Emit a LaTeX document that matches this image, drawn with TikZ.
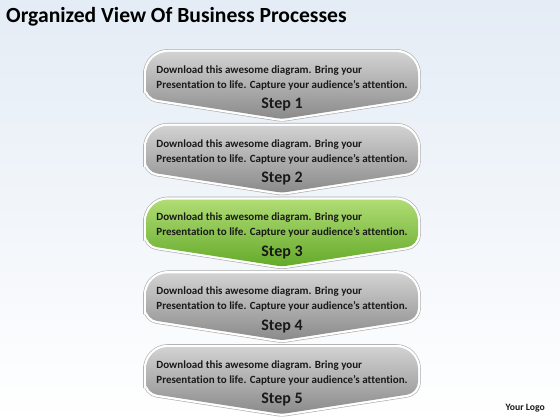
\documentclass[tikz,border=0pt]{standalone}
\usepackage{fontspec}
\setmainfont{Carlito}[Ligatures=NoCommon]
\usetikzlibrary{positioning}

\definecolor{bgblue}{RGB}{228,236,245}
\definecolor{rimgray}{RGB}{170,170,170}
\definecolor{graytop}{RGB}{210,210,210}
\definecolor{graybot}{RGB}{138,138,138}
\definecolor{greentop}{RGB}{176,220,116}
\definecolor{greenbot}{RGB}{100,170,42}
\definecolor{inktext}{RGB}{25,25,25}

% outline of one step banner, #1 = top edge
\newcommand{\bannerpath}[1]{(146,#1+30) [rounded corners=22pt] -- (146,#1) -- (418,#1) [rounded corners=11pt] -- (418,#1+46) [rounded corners=4pt] -- (282,#1+67) [rounded corners=11pt] -- (146,#1+46) -- cycle}

% #1 = top edge, #2 = fill style, #3 = step number
\newcommand{\banner}[3]{%
\path[rim] \bannerpath{#1};
\shade[#2] \bannerpath{#1};
\node[bodytext] (text#3) at (282,#1+26) {Download this awesome diagram. Bring your\\Presentation to life. Capture your audience’s attention.};
\node[steptext] (step#3) at (282,#1+53) {Step #3};
}

\begin{document}
\begin{tikzpicture}[x=1pt,y=-1pt,
rim/.style={draw=rimgray, line width=0.6pt, double=white, double distance=4.5pt},
grayfill/.style={top color=graytop, bottom color=graybot},
greenfill/.style={top color=greentop, bottom color=greenbot},
bodytext/.style={align=left, text=inktext, font=\fontsize{11}{15}\selectfont\bfseries, inner sep=0pt},
steptext/.style={text=inktext, font=\fontsize{16}{18}\selectfont\bfseries, inner sep=0pt}]
\shade[top color=bgblue, bottom color=white] (0,0) rectangle (560,420);
\useasboundingbox (0,0) rectangle (560,420);

\node[anchor=west, font=\fontsize{21.6}{26}\selectfont\bfseries, inner sep=0pt] (title) at (6,17) {Organized View Of Business Processes};

\banner{52}{grayfill}{1}
\banner{125.75}{grayfill}{2}
\banner{199.5}{greenfill}{3}
\banner{273.25}{grayfill}{4}
\banner{347}{grayfill}{5}

\node[anchor=east, font=\fontsize{9.7}{11}\selectfont\bfseries, text=inktext, inner sep=0pt] (logo) at (545,408) {Your Logo};
\end{tikzpicture}
\end{document}
